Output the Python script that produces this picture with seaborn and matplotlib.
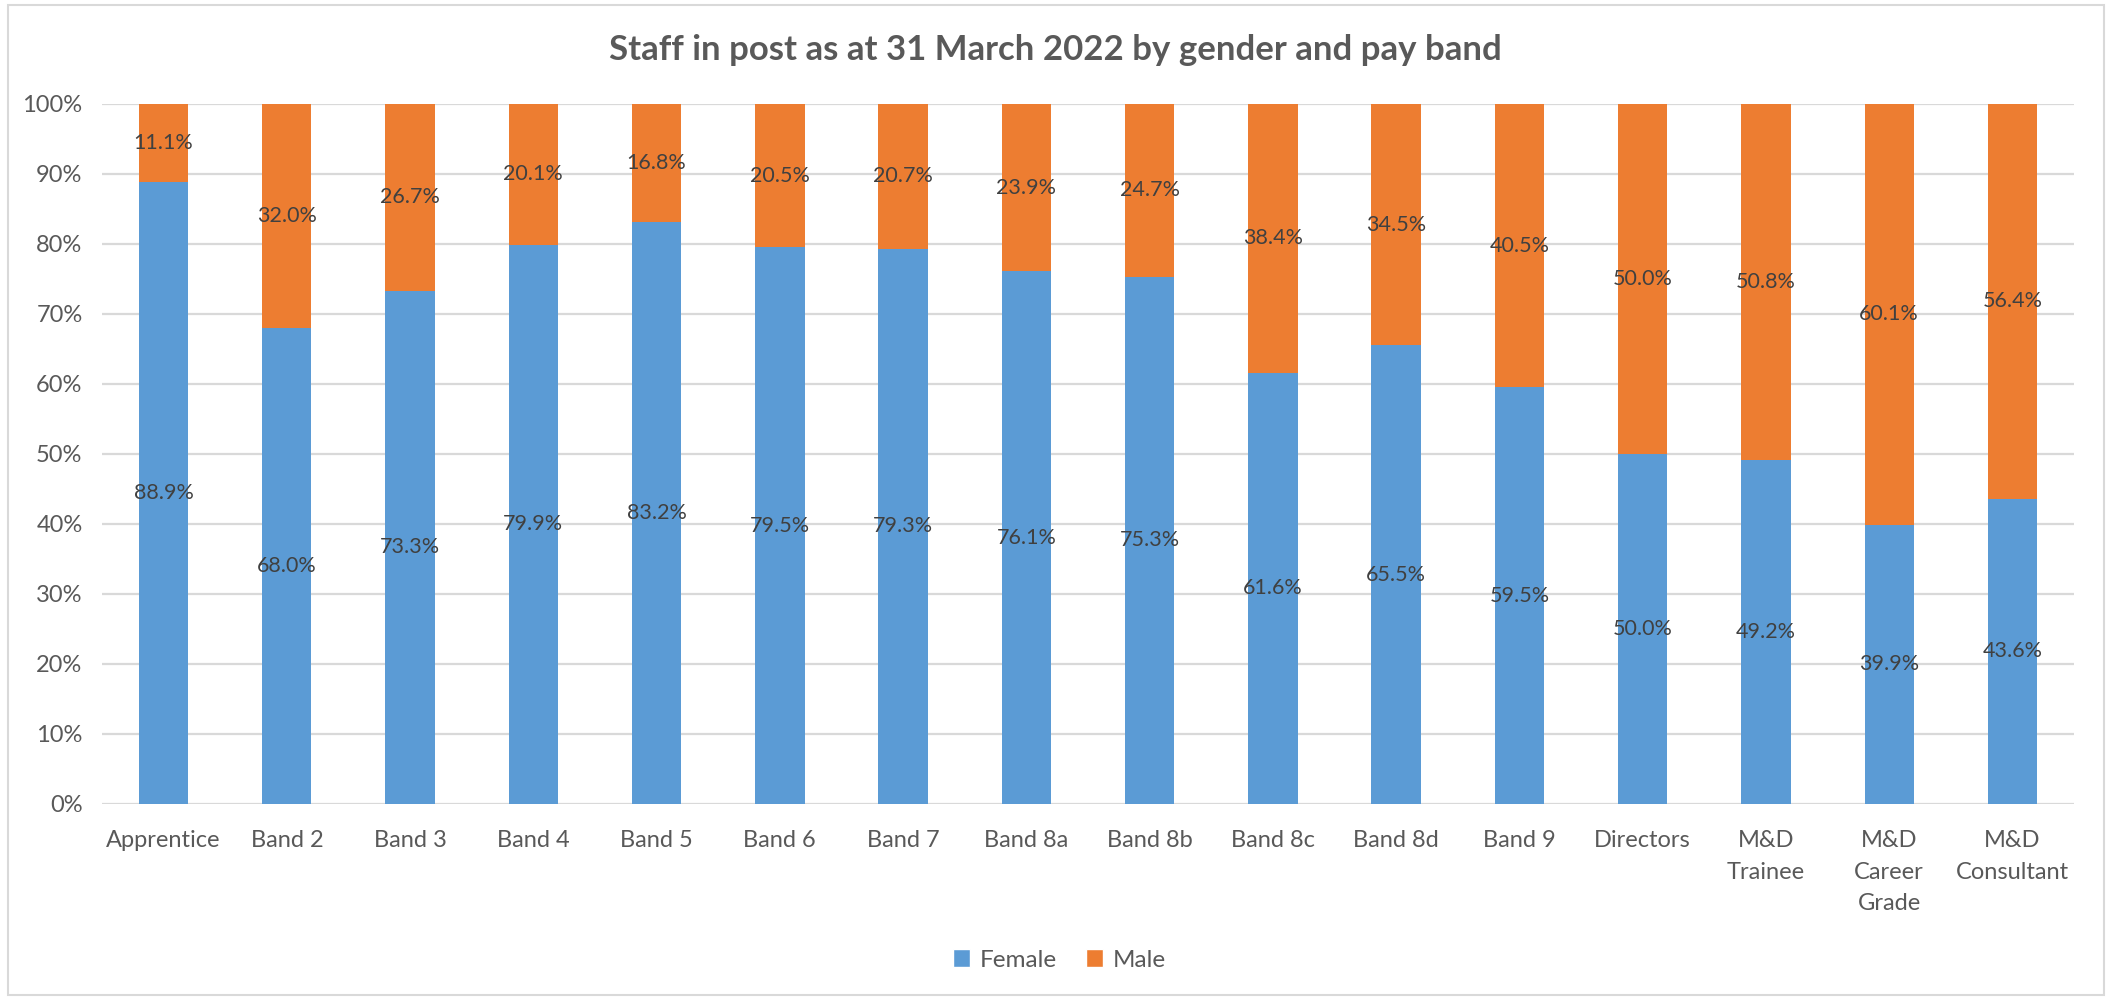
import matplotlib
matplotlib.use("Agg")
import matplotlib.pyplot as plt
from matplotlib.patches import Rectangle, Patch
import seaborn as sns
import pandas as pd

# Pay bands and share of staff in post by gender (%)
bands = ["Apprentice", "Band 2", "Band 3", "Band 4", "Band 5", "Band 6", "Band 7",
         "Band 8a", "Band 8b", "Band 8c", "Band 8d", "Band 9", "Directors",
         "M&D\nTrainee", "M&D\nCareer\nGrade", "M&D\nConsultant"]
female = [88.9, 68.0, 73.3, 79.9, 83.2, 79.5, 79.3, 76.1, 75.3, 61.6, 65.5, 59.5,
          50.0, 49.2, 39.9, 43.6]
male = [11.1, 32.0, 26.7, 20.1, 16.8, 20.5, 20.7, 23.9, 24.7, 38.4, 34.5, 40.5,
        50.0, 50.8, 60.1, 56.4]
y_ticks = [0, 10, 20, 30, 40, 50, 60, 70, 80, 90, 100]

BLUE = "#5B9BD5"
ORANGE = "#ED7D31"
TEXT = "#595959"
LABEL = "#404040"
GRID = "#D9D9D9"

sns.set_theme(style="white")
plt.rcParams["font.family"] = ["Lato", "DejaVu Sans"]

df = pd.DataFrame({"band": bands, "female": female, "male": male})

fig = plt.figure(figsize=(21.11, 9.98), dpi=100)
ax = fig.add_axes([0.0483, 0.1944, 0.9342, 0.7014])

sns.barplot(data=df, x="band", y="female", order=bands, color=BLUE,
            width=0.4, saturation=1, ax=ax, zorder=3, linewidth=0)
sns.barplot(data=df, x="band", y="male", order=bands, color=ORANGE,
            width=0.4, saturation=1, ax=ax, zorder=3, linewidth=0,
            bottom=df["female"])

# Segment value labels, centred in each segment
for i, (f, m) in enumerate(zip(female, male)):
    ax.text(i, f / 2, f"{f:.1f}%", ha="center", va="center",
            fontsize=15.5, color=LABEL, zorder=4)
    ax.text(i, f + m / 2, f"{m:.1f}%", ha="center", va="center",
            fontsize=15.5, color=LABEL, zorder=4)

ax.set_xlim(-0.5, len(bands) - 0.5)
ax.set_ylim(0, 100)
ax.set_yticks(y_ticks)
ax.set_yticklabels([f"{t}%" for t in y_ticks])
ax.yaxis.grid(True, color=GRID, linewidth=1.6, zorder=0)
ax.xaxis.grid(False)
ax.set_axisbelow(True)
for s in ax.spines.values():
    s.set_visible(False)
ax.set_xlabel("")
ax.set_ylabel("")
ax.tick_params(axis="x", length=0, pad=19, labelsize=17, labelcolor=TEXT)
ax.tick_params(axis="y", length=0, pad=14, labelsize=17, labelcolor=TEXT)
for lbl in ax.get_xticklabels():
    lbl.set_linespacing(1.62)
    lbl.set_verticalalignment("top")

fig.text(0.5, 1 - 50 / 998, "Staff in post as at 31 March 2022 by gender and pay band",
         ha="center", va="center", fontsize=25, fontweight="bold", color=TEXT)

handles = [Patch(facecolor=BLUE, label="Female"), Patch(facecolor=ORANGE, label="Male")]
fig.legend(handles=handles, loc="center", bbox_to_anchor=(0.502, 1 - 960 / 998),
           ncol=2, frameon=False, fontsize=17.5, handlelength=0.7, handleheight=0.7,
           handletextpad=0.4, columnspacing=1.2, labelcolor=TEXT)

fig.patches.append(Rectangle((8 / 2111, 3 / 998), 2096 / 2111, 990 / 998,
                             transform=fig.transFigure, fill=False,
                             edgecolor=GRID, linewidth=1.5))

fig.savefig("out.png", dpi=100, facecolor="white")
